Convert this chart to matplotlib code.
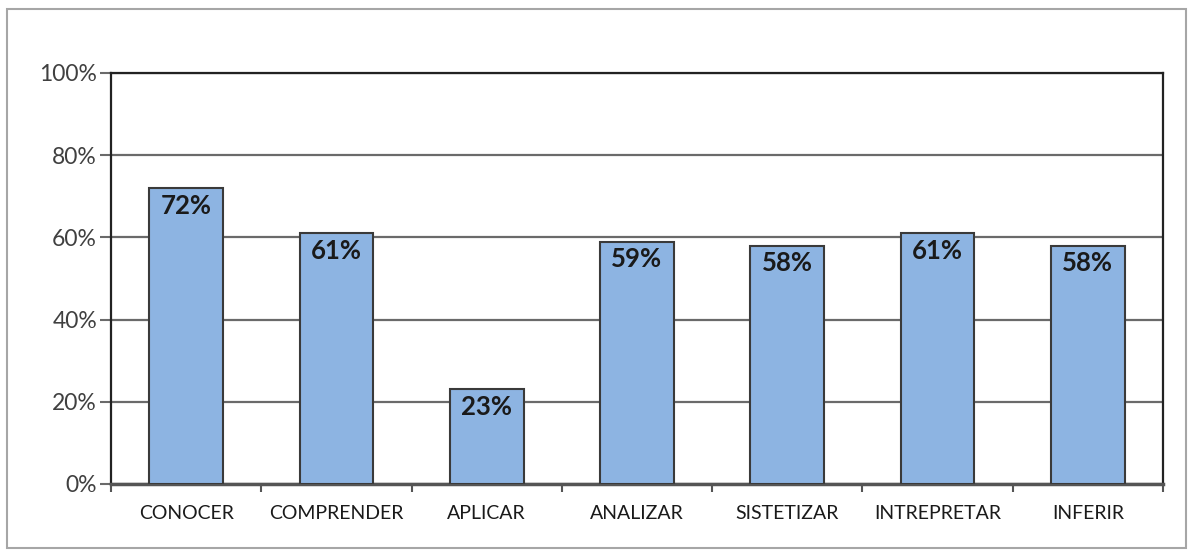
import matplotlib.pyplot as plt
from matplotlib.patches import Rectangle
from matplotlib.ticker import FuncFormatter, FixedLocator

# data
categories = ["CONOCER", "COMPRENDER", "APLICAR", "ANALIZAR", "SISTETIZAR", "INTREPRETAR", "INFERIR"]
values = [72, 61, 23, 59, 58, 61, 58]
y_ticks = [0, 20, 40, 60, 80, 100]

plt.rcParams['font.family'] = ['Lato', 'DejaVu Sans']

fig = plt.figure(figsize=(11.88, 5.5), dpi=100)
axe = fig.add_axes([111 / 1188, 66 / 550, (1163 - 111) / 1188, (484 - 73) / 550])

x = list(range(len(categories)))
bars = axe.bar(x, values, width=0.49, color="#8db4e2", edgecolor="#3a3a3a", linewidth=1.5, zorder=3)

for rect, v in zip(bars, values):
    axe.annotate(f"{v}%", (rect.get_x() + rect.get_width() / 2, rect.get_height()),
                 xytext=(0, -4), textcoords="offset points", ha="center", va="top",
                 fontsize=18.5, fontweight="bold", color="#1a1a1a", zorder=4)

axe.set_xlim(-0.5, len(categories) - 0.5)
axe.set_ylim(0, 100)
axe.set_yticks(y_ticks)
axe.yaxis.set_major_formatter(FuncFormatter(lambda v, p: f"{int(v)}%"))
axe.yaxis.grid(True, color="#6a6a6a", linewidth=1.6, zorder=0)
axe.tick_params(axis="y", length=8, width=1.5, color="#6a6a6a", pad=2, labelsize=16.5, labelcolor="#404040")

axe.set_xticks(x)
axe.set_xticklabels(categories)
axe.tick_params(axis="x", which="major", length=0, pad=15, labelsize=14, labelcolor="#1a1a1a")
axe.xaxis.set_minor_locator(FixedLocator([i - 0.5 for i in range(len(categories) + 1)]))
axe.tick_params(axis="x", which="minor", length=6, width=1.5, color="#555555", direction="out")

for side in ["left", "top", "right"]:
    axe.spines[side].set_color("#222222")
    axe.spines[side].set_linewidth(1.6)
axe.spines["bottom"].set_color("#555555")
axe.spines["bottom"].set_linewidth(2.5)

# outer chart border
fig.patches.append(Rectangle((7 / 1188, 2 / 550), 1179 / 1188, 539 / 550, transform=fig.transFigure,
                             fill=False, edgecolor="#a6a6a6", linewidth=1.5))

fig.savefig("out.png", dpi=100)
